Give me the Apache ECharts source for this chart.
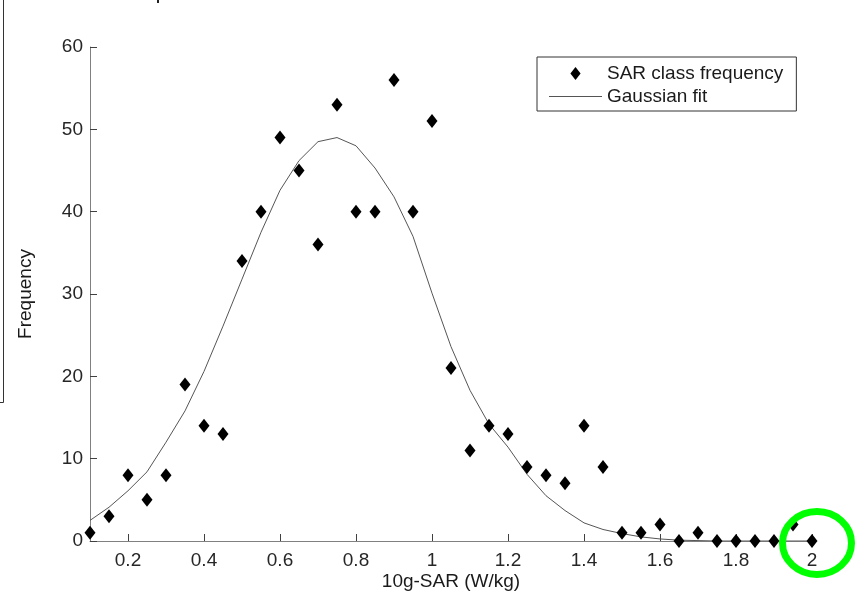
<!DOCTYPE html>
<html>
<head>
<meta charset="utf-8">
<script src="https://cdn.jsdelivr.net/npm/echarts@6/dist/echarts.min.js"></script>
<style>
  html, body { margin: 0; padding: 0; background: #fff; }
  #main { width: 860px; height: 593px; }
</style>
</head>
<body>
<div id="main"></div>
<script>
// SAR class centres (W/kg)
var sarClass = [0.1, 0.15, 0.2, 0.25, 0.3, 0.35, 0.4, 0.45, 0.5, 0.55,
                0.6, 0.65, 0.7, 0.75, 0.8, 0.85, 0.9, 0.95, 1.0, 1.05,
                1.1, 1.15, 1.2, 1.25, 1.3, 1.35, 1.4, 1.45, 1.5, 1.55,
                1.6, 1.65, 1.7, 1.75, 1.8, 1.85, 1.9, 1.95, 2.0];
// observed frequency per class
var classFreq = [1, 3, 8, 5, 8, 19, 14, 13, 34, 40,
                 49, 45, 36, 53, 40, 40, 56, 40, 51, 21,
                 11, 14, 13, 9, 8, 7, 14, 9, 1, 1,
                 2, 0, 1, 0, 0, 0, 0, 2, 0];
// gaussian fit
var gaussFit = [2.5, 4.1, 6.1, 8.4, 12.0, 15.8, 20.6, 26.1, 31.8, 37.5,
                42.6, 46.2, 48.5, 49.0, 48.0, 45.3, 41.8, 37.0, 30.1, 23.6,
                18.3, 14.2, 11.4, 8.1, 5.5, 3.7, 2.2, 1.4, 0.9, 0.5,
                0.25, 0.1, 0.05, 0, 0, 0, 0, 0, 0];
var xTicks = [0.2, 0.4, 0.6, 0.8, 1.0, 1.2, 1.4, 1.6, 1.8, 2.0];

var myChart = echarts.init(document.getElementById('main'));

var pts = [], fit = [];
for (var i = 0; i < sarClass.length; i++) {
    pts.push([sarClass[i], classFreq[i]]);
    fit.push([sarClass[i], gaussFit[i]]);
}

var font = 'Liberation Sans, Arial, sans-serif';

var option = {
    backgroundColor: '#fff',
    animation: false,
    grid: { left: 90, right: 48, top: 47, bottom: 52, containLabel: false, outerBoundsMode: 'none' },
    legend: {
        left: 537,
        top: 57,
        orient: 'vertical',
        padding: [7, 13, 5, 12],
        itemGap: 4,
        itemWidth: 53,
        itemHeight: 13,
        itemTextGap: 13,
        borderColor: '#333',
        borderWidth: 1,
        backgroundColor: '#fff',
        textStyle: { fontFamily: font, fontSize: 19, color: '#1a1a1a' },
        data: [
            { name: 'SAR class frequency', icon: 'path://M0,7L5.5,0L11,7L5.5,14Z' },
            { name: 'Gaussian fit', icon: 'path://M0,0L53,0L53,1L0,1Z' }
        ]
    },
    xAxis: {
        type: 'value',
        min: 0.1,
        max: 2.0,
        name: '10g-SAR (W/kg)',
        nameLocation: 'middle',
        nameGap: 31,
        nameMoveOverlap: false,
        nameTextStyle: { fontFamily: font, fontSize: 19, color: '#1a1a1a' },
        splitLine: { show: false },
        axisLine: { lineStyle: { color: '#808080', width: 1 } },
        axisTick: { inside: true, length: 7, customValues: xTicks, lineStyle: { color: '#404040' } },
        axisLabel: { customValues: xTicks, margin: 10, fontFamily: font, fontSize: 19, color: '#262626' }
    },
    yAxis: {
        type: 'value',
        min: 0,
        max: 60,
        interval: 10,
        name: 'Frequency',
        nameLocation: 'middle',
        nameGap: 55,
        nameMoveOverlap: false,
        nameTextStyle: { fontFamily: font, fontSize: 19, color: '#1a1a1a' },
        splitLine: { show: false },
        axisLine: { show: true, lineStyle: { color: '#808080', width: 1 } },
        axisTick: { show: true, inside: true, length: 7, lineStyle: { color: '#404040' } },
        axisLabel: { margin: 7, fontFamily: font, fontSize: 19, color: '#262626' }
    },
    series: [
        {
            name: 'Gaussian fit',
            type: 'line',
            data: fit,
            symbol: 'none',
            smooth: false,
            lineStyle: { color: '#555', width: 1 },
            itemStyle: { color: '#555' },
            z: 2
        },
        {
            name: 'SAR class frequency',
            type: 'scatter',
            data: pts,
            symbol: 'diamond',
            symbolSize: [11, 14],
            itemStyle: { color: '#000', opacity: 1 },
            z: 3
        }
    ],
    graphic: [
        {
            type: 'polyline',
            shape: { points: [[3.5, 0], [3.5, 402.5], [0, 402.5]] },
            style: { stroke: '#333', lineWidth: 1, fill: null }
        },
        {
            type: 'rect',
            shape: { x: 157, y: 0, width: 2, height: 3 },
            style: { fill: '#222' }
        },
        {
            type: 'ellipse',
            shape: { cx: 817, cy: 543, rx: 34.5, ry: 31.5 },
            style: { stroke: '#00ff00', lineWidth: 7, fill: null },
            z: 100
        }
    ]
};

myChart.setOption(option);
</script>
</body>
</html>
